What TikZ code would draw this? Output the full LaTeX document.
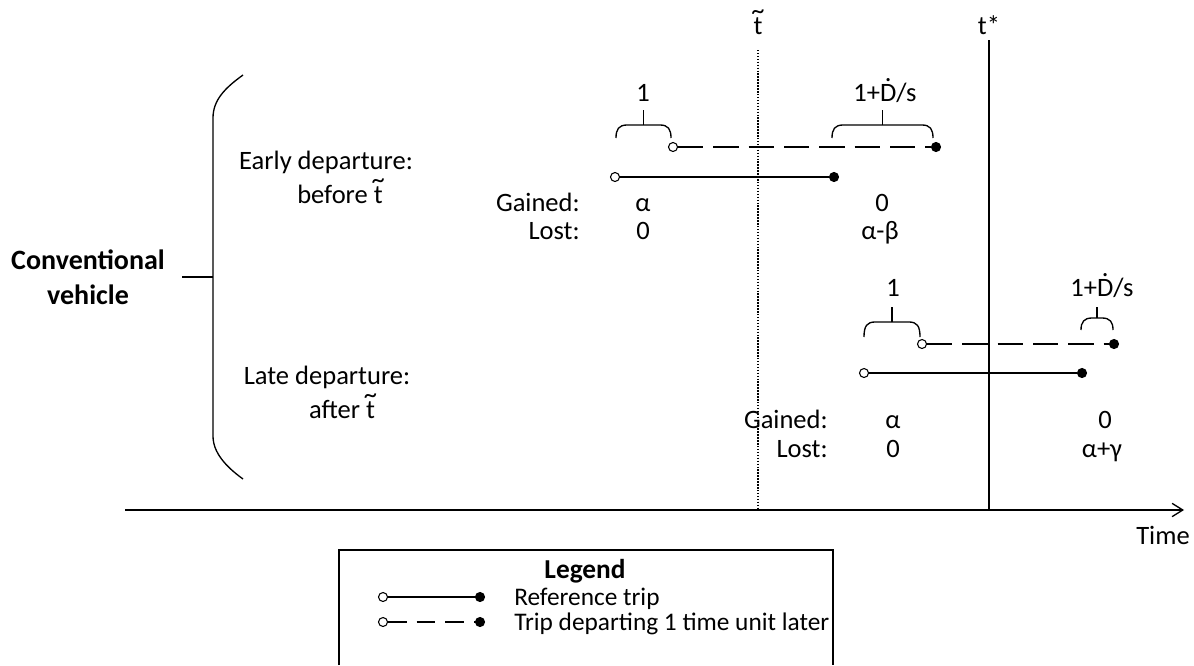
\documentclass[tikz,border=0pt]{standalone}
\usepackage{fontspec}
\setmainfont{Carlito}
\usetikzlibrary{arrows.meta}
\newcommand\tld{\leavevmode\hbox{\ooalign{t\cr\hidewidth\raisebox{0.55em}{\textasciitilde}\hidewidth\cr}}}
\newcommand\Dd{\leavevmode\hbox{\ooalign{D\cr\hidewidth\raisebox{0.72em}{.}\hidewidth\cr}}}
\newcommand\brk[5]{%
  \draw[trip] (#1,#4) .. controls (#1,#3+4) and (#1+3,#3) .. (#1+11,#3) -- (#2-11,#3) .. controls (#2-3,#3) and (#2,#3+4) .. (#2,#4);
  \draw[trip] ({(#1+#2)/2},#3) -- ({(#1+#2)/2},#5);}
\tikzset{
  txt/.style={font=\fontsize{19.9}{24}\selectfont, inner sep=0pt, anchor=base},
  btxt/.style={txt, font=\fontsize{21}{25}\selectfont\bfseries},
  ltxt/.style={font=\fontsize{19}{23}\selectfont, inner sep=0pt, anchor=base west},
  trip/.style={line width=1pt, line cap=butt},
  odot/.style={circle, draw, fill=white, line width=0.8pt, minimum size=6.75pt, inner sep=0pt},
  fdot/.style={circle, draw, fill=black, line width=0.8pt, minimum size=6.75pt, inner sep=0pt},
  dsh/.style={trip, dash pattern=on 19pt off 7.5pt},
  ldsh/.style={trip, dash pattern=on 14pt off 7.5pt},
  dotl/.style={line width=0.8pt, dash pattern=on 1.1pt off 1.1pt}
}
\begin{document}
\begin{tikzpicture}[x=0.75pt, y=-0.75pt]
\useasboundingbox[fill=white] (0,0) rectangle (1194,665);

% vertical reference lines
\node[txt] (tlab) at (758,34) {\tld};
\node[txt] (slab) at (989,34) {t*};
\coordinate (ttop) at (758,50);
\coordinate (tbot) at (758,510);
\coordinate (stop) at (989,40);
\coordinate (sbot) at (989,510);
\draw[dotl] (ttop) -- (tbot);
\draw[trip] (stop) -- (sbot);

% time axis
\coordinate (ax0) at (125,510);
\coordinate (ax1) at (1184,510);
\draw[trip, -{Straight Barb[length=8pt,width=10pt]}] (ax0) -- (ax1);
\node[txt] (time) at (1163,544) {Time};

% big brace
\draw[trip] (243,75) .. controls (225,88) and (213,100) .. (213,118) -- (213,436) .. controls (213,452) and (225,466) .. (243,479);
\coordinate (bt0) at (182,277);
\coordinate (bt1) at (213,277);
\draw[trip] (bt0) -- (bt1);
\node[btxt] (conv) at (88,269) {Conventional};
\node[btxt] (veh) at (88,304) {vehicle};

% labels of cases
\node[txt] (early) at (326,169) {Early departure:};
\node[txt] (before) at (340,203) {before \tld};
\node[txt] (late) at (327,384) {Late departure:};
\node[txt] (after) at (342,418) {after \tld};

% early departure trips
\node[odot] (edo) at (673,147) {};
\node[fdot] (edf) at (936,147) {};
\draw[dsh] (edo) -- (edf);
\node[odot] (eso) at (615,177) {};
\node[fdot] (esf) at (834,177) {};
\draw[trip] (eso) -- (esf);
\brk{616}{671}{125}{138}{110}
\brk{832}{933}{125}{138}{110}
\node[txt] (eb1) at (643,101) {1};
\node[txt] (eb2) at (885,101) {1+\Dd/s};
\node[txt, anchor=base east] (eg) at (580,211) {Gained:};
\node[txt, anchor=base east] (el) at (580,239) {Lost:};
\node[txt] (ega) at (643,211) {α};
\node[txt] (ela) at (643,239) {0};
\node[txt] (egb) at (882,211) {0};
\node[txt] (elb) at (880,239) {α-β};

% late departure trips
\node[odot] (ldo) at (922,344) {};
\node[fdot] (ldf) at (1114,344) {};
\draw[dsh] (ldo) -- (ldf);
\node[odot] (lso) at (864,373) {};
\node[fdot] (lsf) at (1082,373) {};
\draw[trip] (lso) -- (lsf);
\brk{864}{920}{322}{337}{307}
\brk{1081}{1113}{318}{330}{307}
\node[txt] (lb1) at (893,296) {1};
\node[txt] (lb2) at (1102,296) {1+\Dd/s};
\node[txt, anchor=base east] (lg) at (828,428) {Gained:};
\node[txt, anchor=base east] (ll) at (828,457) {Lost:};
\node[txt] (lga) at (893,428) {α};
\node[txt] (lla) at (893,457) {0};
\node[txt] (lgb) at (1105,428) {0};
\node[txt] (llb) at (1102,457) {α+γ};

% legend
\coordinate (lg0) at (339,665);
\coordinate (lg1) at (339,550);
\coordinate (lg2) at (833,550);
\coordinate (lg3) at (833,665);
\draw[line width=0.8pt] (lg0) -- (lg1) -- (lg2) -- (lg3);
\node[btxt, font=\fontsize{20.5}{24}\selectfont\bfseries] (legt) at (585,578) {Legend};
\node[odot] (r1a) at (383,597) {};
\node[fdot] (r1b) at (480,597) {};
\draw[trip] (r1a) -- (r1b);
\node[ltxt] (r1t) at (514,605) {Reference trip};
\node[odot] (r2a) at (383,622) {};
\node[fdot] (r2b) at (480,622) {};
\draw[ldsh] (r2a) -- (r2b);
\node[ltxt] (r2t) at (514,630) {Trip departing 1 time unit later};
\end{tikzpicture}
\end{document}
